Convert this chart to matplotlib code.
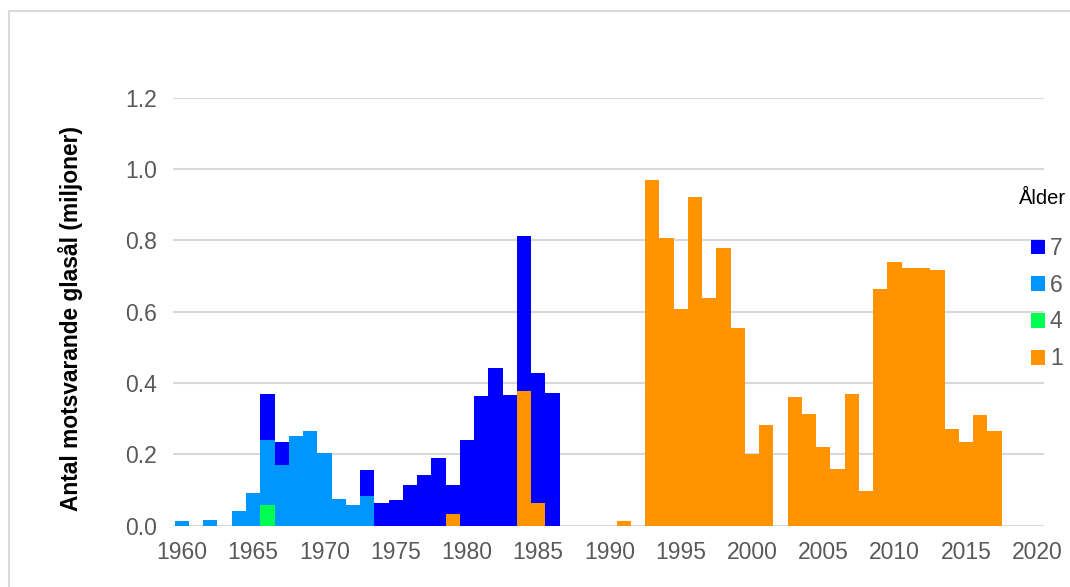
import matplotlib
matplotlib.use('Agg')
import matplotlib.pyplot as plt
from matplotlib.patches import Patch
from matplotlib.lines import Line2D

plt.rcParams['font.family'] = ['Liberation Sans', 'DejaVu Sans']

# Age 7
years_7 = [1966, 1967, 1973, 1974, 1975, 1976, 1977, 1978, 1979, 1980,
           1981, 1982, 1983, 1984, 1985, 1986]
vals_7 = [0.368, 0.236, 0.157, 0.064, 0.072, 0.113, 0.142, 0.189, 0.113, 0.240,
          0.364, 0.443, 0.366, 0.812, 0.429, 0.373]

# Age 6
years_6 = [1960, 1962, 1964, 1965, 1966, 1967, 1968, 1969, 1970, 1971, 1972, 1973]
vals_6 = [0.013, 0.016, 0.041, 0.091, 0.240, 0.170, 0.251, 0.265, 0.203, 0.075,
          0.058, 0.083]

# Age 4
years_4 = [1966]
vals_4 = [0.058]

# Age 1
years_1 = [1979, 1984, 1985, 1991, 1993, 1994, 1995, 1996, 1997, 1998, 1999,
           2000, 2001, 2003, 2004, 2005, 2006, 2007, 2008, 2009, 2010, 2011,
           2012, 2013, 2014, 2015, 2016, 2017]
vals_1 = [0.032, 0.378, 0.064, 0.013, 0.969, 0.806, 0.608, 0.921, 0.639, 0.778,
          0.553, 0.202, 0.282, 0.360, 0.313, 0.221, 0.158, 0.369, 0.096, 0.664,
          0.738, 0.722, 0.722, 0.716, 0.270, 0.235, 0.310, 0.266]

series = [('7', years_7, vals_7, '#0000ff'),
          ('6', years_6, vals_6, '#0096ff'),
          ('4', years_4, vals_4, '#00ff50'),
          ('1', years_1, vals_1, '#ff9300')]

fig = plt.figure(figsize=(10.7, 5.87), dpi=100)
ax = fig.add_axes([173.3 / 1070, 1 - 525.7 / 587, (1044.3 - 173.3) / 1070, (525.7 - 97.6) / 587])

for name, yrs, vals, col in series:
    ax.bar(yrs, vals, width=1.0, color=col, linewidth=0, zorder=2)

ax.set_xlim(1959.4, 2020.5)
ax.set_ylim(0, 1.2)
ax.set_xticks(range(1960, 2021, 5))
ax.set_yticks([0, 0.2, 0.4, 0.6, 0.8, 1.0, 1.2])
ax.set_yticklabels(['0.0', '0.2', '0.4', '0.6', '0.8', '1.0', '1.2'])
ax.grid(axis='y', color='#d9d9d9', linewidth=1.5, zorder=0)
ax.set_axisbelow(True)
for s in ax.spines.values():
    s.set_visible(False)
ax.tick_params(length=0, labelsize=16.5, labelcolor='#595959', pad=12)
ax.tick_params(axis='x', pad=11)

ax.set_ylabel('Antal motsvarande glasål (miljoner)', fontsize=16.4,
              fontweight='bold', color='black')
ax.yaxis.set_label_coords(-0.104, 0.484)

# legend: title as its own text, entries below it
fig.text(1043 / 1070, 1 - 199 / 587, 'Ålder', ha='center', va='center',
         fontsize=14.5, color='black')
handles = [Patch(facecolor=c, edgecolor='none', label=n) for n, _, _, c in series]
leg = fig.legend(handles=handles, loc='upper left',
                 bbox_to_anchor=(1031 / 1070, 1 - 237 / 587), frameon=False,
                 fontsize=16.5, handlelength=0.62, handleheight=0.62,
                 handletextpad=0.2, labelspacing=0.6, borderpad=0,
                 borderaxespad=0)
for t in leg.get_texts():
    t.set_color('#595959')

# light frame around the chart area
fig.add_artist(Line2D([9 / 1070, 9 / 1070], [0, 1 - 11 / 587], color='#d9d9d9', linewidth=1.5))
fig.add_artist(Line2D([9 / 1070, 1], [1 - 11 / 587, 1 - 11 / 587], color='#d9d9d9', linewidth=1.5))

fig.savefig('out.png', dpi=100)
